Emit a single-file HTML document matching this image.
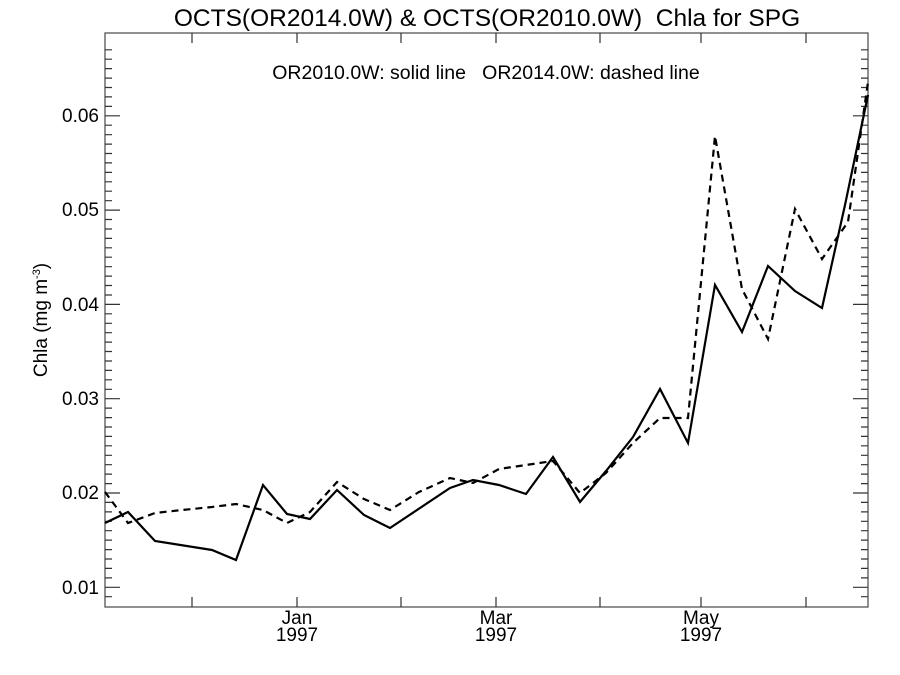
<!DOCTYPE html>
<html><head><style>body{margin:0;background:#fff}svg{display:block}text{font-family:"Liberation Sans",sans-serif;fill:#000}</style></head>
<body>
<svg width="900" height="675" viewBox="0 0 900 675" xmlns="http://www.w3.org/2000/svg">
<text x="487" y="26" font-size="24.5" text-anchor="middle" xml:space="preserve">OCTS(OR2014.0W) &amp; OCTS(OR2010.0W)  Chla for SPG</text>
<text x="486" y="79" font-size="19.5" text-anchor="middle" xml:space="preserve">OR2010.0W: solid line   OR2014.0W: dashed line</text>
<rect x="105" y="33" width="763" height="574" fill="none" stroke="#555" stroke-width="1.3"/>
<g stroke="#333" stroke-width="1.2">
<path id="ticks" d=""/>
</g>
<g font-size="19" text-anchor="end">
<text x="99" y="122">0.06</text><text x="99" y="216">0.05</text><text x="99" y="311">0.04</text>
<text x="99" y="405">0.03</text><text x="99" y="499">0.02</text><text x="99" y="594">0.01</text>
</g>
<text transform="translate(47,320) rotate(-90)" font-size="19" text-anchor="middle">Chla (mg m<tspan font-size="11" dy="-7">-3</tspan><tspan dy="7">)</tspan></text>
<g font-size="19" text-anchor="middle">
<text x="297" y="624">Jan</text><text x="297" y="641">1997</text>
<text x="496" y="624">Mar</text><text x="496" y="641">1997</text>
<text x="701" y="624">May</text><text x="701" y="641">1997</text>
</g>
<polyline fill="none" stroke="#000" stroke-width="2.2" points="105,523 128,512 155,541 212,550 236,560 263,485 287,514 310,519 337,490 364,515 390,528 450,488 473,480 499,485 526,494 553,457 580,502 606,471 633,437 660,389 688,443 715,285 742,332 768,266 795,291 822,308 845,205 868,95"/>
<polyline fill="none" stroke="#000" stroke-width="2.2" stroke-dasharray="7,5" points="105,492 128,523 155,513 182,510 212,507 236,504 263,510 287,523 310,512 337,482 364,499 390,510 419,492 450,478 473,483 499,469 526,465 553,461 580,493 606,473 633,443 660,418 688,418 715,136 742,289 768,339 795,209 822,259 848,222 868,82"/>
<script>
var d="";
var y0=587.3,s=9.43;
for(var i=-2;i<58;i++){var y=y0-i*s;if(y<34||y>606)continue;var L=(i%10==0)?15:7;d+="M105,"+y.toFixed(1)+"h"+L+"M868,"+y.toFixed(1)+"h-"+L;}
[192,297,401,496,600,701,806].forEach(function(x){d+="M"+x+",607v-10M"+x+",33v10";});
document.getElementById("ticks").setAttribute("d",d);
</script>
</svg>
</body></html>
